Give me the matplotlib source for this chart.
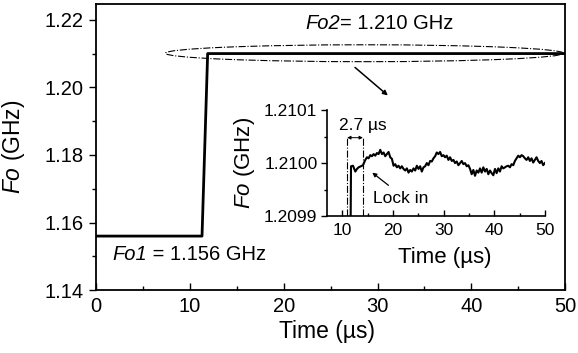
import numpy as np
import matplotlib
matplotlib.use("Agg")
import matplotlib.pyplot as plt
from matplotlib.patches import Ellipse

plt.rcParams['font.family'] = ['Liberation Sans', 'DejaVu Sans']
plt.rcParams['mathtext.fontset'] = 'custom'
plt.rcParams['mathtext.rm'] = 'Liberation Sans'
plt.rcParams['mathtext.it'] = 'Liberation Sans:italic'

# main curve: step from Fo1 to Fo2
main_t = [0, 11.3, 11.9, 50]
main_f = [1.156, 1.156, 1.210, 1.210]

# inset: zoom on Fo2 after the step
inset_t = [11.57, 11.71, 12.10, 12.56, 12.89, 13.21, 13.67, 14.07, 14.53, 14.86,
           15.18, 15.51, 15.84, 16.17, 16.50, 16.82, 17.15, 17.48, 17.81, 18.14,
           18.46, 18.79, 19.12, 19.45, 19.78, 20.10, 20.43, 20.76, 21.09, 21.42,
           21.74, 22.07, 22.40, 22.73, 23.06, 23.38, 23.71, 24.04, 24.37, 24.70,
           25.03, 25.35, 25.68, 26.01, 26.34, 26.67, 26.99, 27.32, 27.65, 27.98,
           28.31, 28.63, 28.96, 29.29, 29.62, 29.95, 30.27, 30.60, 30.93, 31.26,
           31.59, 31.92, 32.24, 32.57, 32.90, 33.23, 33.56, 33.88, 34.21, 34.54,
           34.87, 35.20, 35.52, 35.85, 36.18, 36.51, 36.84, 37.16, 37.49, 37.82,
           38.15, 38.48, 38.81, 39.13, 39.46, 39.79, 40.12, 40.45, 40.77, 41.10,
           41.43, 41.76, 42.09, 42.41, 42.74, 43.07, 43.40, 43.73, 44.05, 44.38,
           44.71, 45.04, 45.37, 45.69, 46.02, 46.35, 46.68, 47.01, 47.33, 47.66,
           47.99, 48.32, 48.65, 48.98, 49.30, 49.63, 49.96]
inset_f = [1.209800, 1.209994, 1.209995, 1.209984, 1.209989, 1.209992, 1.209994,
           1.209996, 1.210006, 1.210011, 1.210009, 1.210015, 1.210013, 1.210017,
           1.210014, 1.210019, 1.210017, 1.210025, 1.210017, 1.210020, 1.210013,
           1.210017, 1.210021, 1.210011, 1.210008, 1.209995, 1.209998, 1.209992,
           1.209995, 1.209990, 1.209994, 1.209989, 1.209986, 1.209990, 1.209982,
           1.209987, 1.209984, 1.209990, 1.209986, 1.209995, 1.209989, 1.209994,
           1.209984, 1.209992, 1.209994, 1.210000, 1.209996, 1.210004, 1.210003,
           1.210009, 1.210013, 1.210020, 1.210017, 1.210021, 1.210013, 1.210015,
           1.210011, 1.210014, 1.210006, 1.210011, 1.210004, 1.210006, 1.210000,
           1.210003, 1.209996, 1.210000, 1.210004, 1.209998, 1.210000, 1.209994,
           1.209996, 1.209989, 1.209979, 1.209987, 1.209976, 1.209986, 1.209982,
           1.209990, 1.209982, 1.209992, 1.209984, 1.209989, 1.209979, 1.209986,
           1.209981, 1.209977, 1.209989, 1.209981, 1.209990, 1.209984, 1.209994,
           1.209990, 1.209992, 1.209994, 1.209995, 1.209992, 1.209998, 1.209996,
           1.210004, 1.210009, 1.210014, 1.210011, 1.210015, 1.210013, 1.210009,
           1.210006, 1.210011, 1.210004, 1.210009, 1.210001, 1.210006, 1.210011,
           1.210004, 1.210000, 1.210004, 1.209996, 1.210000]

lock_start = 10.95
lock_end = 14.05

fig = plt.figure(figsize=(5.78, 3.53), dpi=100)
ax = fig.add_axes([0.166, 0.178, 0.812, 0.811])
ax.plot(main_t, main_f, color='black', lw=2)
ax.set_xlim(0, 50)
ax.set_ylim(1.14, 1.2247)
ax.set_xticks([0, 10, 20, 30, 40, 50])
ax.set_xticks([5, 15, 25, 35, 45], minor=True)
ax.set_yticks([1.14, 1.16, 1.18, 1.20, 1.22])
ax.set_yticklabels(['1.14', '1.16', '1.18', '1.20', '1.22'])
ax.set_yticks([1.15, 1.17, 1.19, 1.21], minor=True)
ax.tick_params(axis='x', which='both', direction='in', labelsize=14.5, pad=5)
ax.tick_params(axis='y', which='both', direction='out', labelsize=14.5, pad=4)
ax.tick_params(which='major', length=5, width=1)
ax.tick_params(which='minor', length=3, width=1)
for s in ax.spines.values():
    s.set_linewidth(1.3)
ax.set_xlabel('Time (µs)', fontsize=16.5)
ax.set_ylabel(r'$\mathit{Fo}$ (GHz)', fontsize=16.5)
ax.xaxis.set_label_coords(0.493, -0.105)
ax.yaxis.set_label_coords(-0.147, 0.5)

t1 = ax.text(1.7, 1.1505, 'Fo1', fontsize=14.5, style='italic', va='center')
ax.annotate(' = 1.156 GHz', xy=(1, 0), xycoords=t1, fontsize=14.5, va='bottom')
t2 = ax.text(22.3, 1.2188, 'Fo2', fontsize=14.5, style='italic', va='center')
ax.annotate('= 1.210 GHz', xy=(1, 0), xycoords=t2, fontsize=14.5, va='bottom')
ax.add_patch(Ellipse((28.6, 1.2101), 42.4, 0.0050, fill=False, ls='-.', lw=0.8,
                     color='black'))
ax.annotate('', xy=(31.1, 1.1976), xytext=(27.6, 1.2059),
            arrowprops=dict(arrowstyle='-|>', color='black', lw=1.1, mutation_scale=7,
                            shrinkA=0, shrinkB=0))

# inset
ins = fig.add_axes([0.566, 0.388, 0.377, 0.300])
ins.plot(inset_t, inset_f, color='black', lw=1.5)
ins.set_xlim(7, 50)
ins.set_ylim(1.2099, 1.2101)
ins.spines['top'].set_visible(False)
ins.spines['right'].set_visible(False)
for s in ('left', 'bottom'):
    ins.spines[s].set_linewidth(1.2)
ins.set_xticks([10, 20, 30, 40, 50])
ins.set_xticks([15, 25, 35, 45], minor=True)
ins.set_yticks([1.2099, 1.2100, 1.2101])
ins.set_yticklabels(['1.2099', '1.2100', '1.2101'])
ins.set_yticks([1.20995, 1.21005], minor=True)
ins.tick_params(axis='x', which='both', direction='in', labelsize=12.5, pad=5)
ins.tick_params(axis='y', which='both', direction='out', labelsize=12.5, pad=3)
ins.tick_params(which='major', length=4, width=1)
ins.tick_params(which='minor', length=2.5, width=1)
ins.set_xlabel('Time (µs)', fontsize=16)
ins.set_ylabel(r'$\mathit{Fo}$ (GHz)', fontsize=16)
ins.xaxis.set_label_coords(0.54, -0.29)
ins.yaxis.set_label_coords(-0.32, 0.5)

for x in (lock_start, lock_end):
    ins.plot([x, x], [1.2099, 1.210048], color='black', ls='-.', lw=0.8)
ins.annotate('', xy=(lock_start, 1.210048), xytext=(lock_end, 1.210048),
             arrowprops=dict(arrowstyle='<|-|>', color='black', lw=0.7,
                             mutation_scale=5, shrinkA=0, shrinkB=0))
ins.text(14.0, 1.210071, '2.7 µs', fontsize=12.5, ha='center', va='center')
ins.text(16.1, 1.209933, 'Lock in', fontsize=12.5, va='center')
ins.annotate('', xy=(15.9, 1.209982), xytext=(19.1, 1.209958),
             arrowprops=dict(arrowstyle='-|>', color='black', lw=0.9, mutation_scale=6,
                             shrinkA=0, shrinkB=0))

fig.savefig('out.png', dpi=100)
